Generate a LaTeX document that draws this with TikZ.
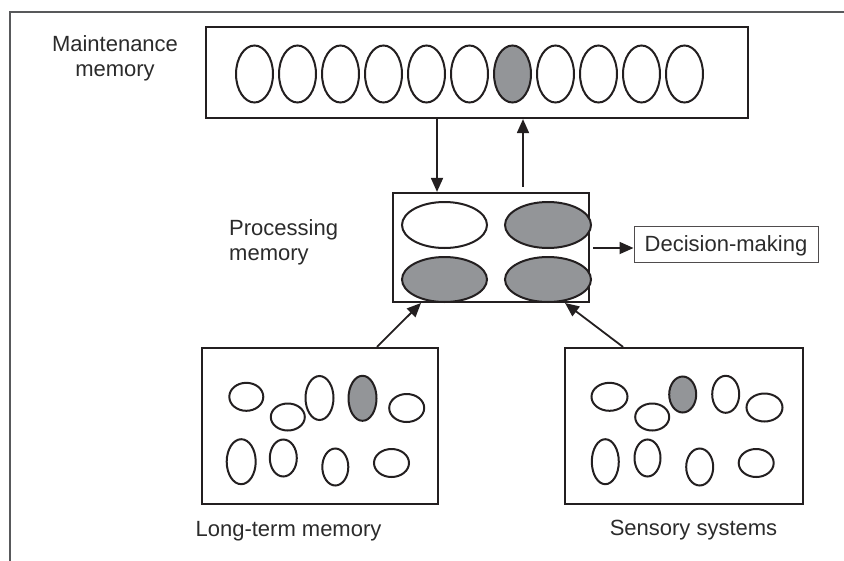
\documentclass[tikz,border=0pt]{standalone}
\usepackage{fontspec}
\setmainfont{Liberation Sans}
\usetikzlibrary{shapes.geometric,arrows.meta}
\definecolor{ink}{HTML}{231F20}
\definecolor{fillgray}{HTML}{939598}
\definecolor{framegray}{HTML}{58595B}
\definecolor{txt}{HTML}{2B2B2B}
\tikzset{
  box/.style={draw=ink, line width=2.2pt, rectangle, inner sep=0pt},
  ell/.style={draw=ink, line width=2pt, ellipse, inner sep=0pt, fill=white},
  gell/.style={ell, fill=fillgray},
  arr/.style={draw=ink, line width=1.8pt, -{Triangle[length=14pt,width=12pt]}},
  lbl/.style={text=txt, font=\fontsize{22}{25}\selectfont, inner sep=0pt},
}
\begin{document}
\begin{tikzpicture}[x=1pt,y=-1pt]
\useasboundingbox (0,0) rectangle (844,560);
% frame
\draw[framegray, line width=2pt] (10,562) -- (10,12) -- (846,12);

% maintenance memory
\node[box, minimum width=542pt, minimum height=91pt] (maint) at (477,72.5) {};
\foreach \i in {0,...,10} {
  \ifnum\i=6
    \node[gell, minimum width=37pt, minimum height=57pt] (m\i) at ({254.5+43*\i},74) {};
  \else
    \node[ell, minimum width=37pt, minimum height=57pt] (m\i) at ({254.5+43*\i},74) {};
  \fi
}
\node[lbl, align=center] (mlabel) at (115,58) {Maintenance\\memory};

% processing memory
\node[box, minimum width=196pt, minimum height=109pt] (proc) at (491,247.5) {};
\node[ell, minimum width=85pt, minimum height=46pt] (pTL) at (444.5,225) {};
\node[gell, minimum width=86pt, minimum height=46pt] (pTR) at (548,225) {};
\node[gell, minimum width=85pt, minimum height=45pt] (pBL) at (444.5,279.5) {};
\node[gell, minimum width=86pt, minimum height=45pt] (pBR) at (548,279.5) {};
\node[lbl, align=left, anchor=west] (plabel) at (229,242) {Processing\\memory};

% decision-making
\node[draw=ink!80, line width=1pt, rectangle, minimum width=184pt, minimum height=36pt,
      inner sep=0pt, text=txt, font=\fontsize{22}{25}\selectfont, text depth=0pt] (dec) at (726,244) {Decision-making};

% long-term memory
\node[box, minimum width=236pt, minimum height=156pt] (ltm) at (320,426) {};
\node[ell, minimum width=34pt, minimum height=28pt] (l1) at (246.3,396.8) {};
\node[ell, minimum width=34pt, minimum height=27pt] (l2) at (287.8,417) {};
\node[ell, minimum width=28pt, minimum height=44pt] (l3) at (319.5,398) {};
\node[gell, minimum width=28pt, minimum height=45pt] (l4) at (362.5,398.3) {};
\node[ell, minimum width=35pt, minimum height=28pt] (l5) at (406.7,408) {};
\node[ell, minimum width=29pt, minimum height=45pt] (l6) at (241.2,461.7) {};
\node[ell, minimum width=27pt, minimum height=37pt] (l7) at (283.3,458) {};
\node[ell, minimum width=26pt, minimum height=37pt] (l8) at (335.3,467) {};
\node[ell, minimum width=35pt, minimum height=28pt] (l9) at (391.5,463) {};
\node[lbl, anchor=base] (ltmlabel) at (288.5,536) {Long-term memory};

% sensory systems
\node[box, minimum width=238pt, minimum height=156pt] (sens) at (684,426) {};
\node[ell, minimum width=36pt, minimum height=28pt] (s1) at (609.5,396.8) {};
\node[ell, minimum width=34pt, minimum height=27pt] (s2) at (652.2,417) {};
\node[gell, minimum width=27pt, minimum height=36pt] (s3) at (682.7,394.5) {};
\node[ell, minimum width=27pt, minimum height=37pt] (s4) at (725.7,394.3) {};
\node[ell, minimum width=36pt, minimum height=28pt] (s5) at (764.5,407.5) {};
\node[ell, minimum width=27pt, minimum height=45pt] (s6) at (605.3,461.7) {};
\node[ell, minimum width=26pt, minimum height=37pt] (s7) at (647.5,458) {};
\node[ell, minimum width=27pt, minimum height=37pt] (s8) at (699.7,467) {};
\node[ell, minimum width=35pt, minimum height=28pt] (s9) at (756.2,463) {};
\node[lbl, anchor=base] (senslabel) at (693.5,535) {Sensory systems};

% connectors
\coordinate (dn) at (437,0);
\coordinate (up) at (523,0);
\draw[arr] (dn |- maint.south) -- (dn |- proc.north);
\draw[arr] ([yshift=5pt]up |- proc.north) -- (up |- maint.south);
\coordinate (dstart) at (593,248);
\draw[arr] (dstart) -- (dstart -| dec.west);
\coordinate (lstart) at (377,0);
\coordinate (rstart) at (623,0);
\coordinate (ltip) at (421,303);
\coordinate (rtip) at (565,303);
\draw[arr] (lstart |- ltm.north) -- (ltip);
\draw[arr] (rstart |- sens.north) -- (rtip);
\end{tikzpicture}
\end{document}
